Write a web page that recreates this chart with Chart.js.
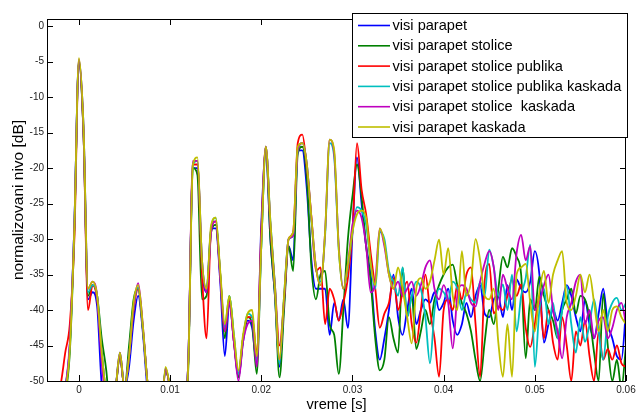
<!DOCTYPE html>
<html>
<head>
<meta charset="utf-8">
<script src="https://cdn.jsdelivr.net/npm/chart.js@4.4.1/dist/chart.umd.min.js"></script>
<style>
  html, body { margin: 0; padding: 0; background: #fff; }
  #wrap { width: 636px; height: 412px; }
</style>
</head>
<body>
<div id="wrap"><canvas id="chart" width="636" height="412"></canvas></div>
<script>
// vreme [s], korak 0.5 ms
const times = [
  -0.0035, -0.003, -0.0025, -0.002, -0.0015, -0.001, -0.0005, 0, 0.0005, 0.001,
  0.0015, 0.002, 0.0025, 0.003, 0.0035, 0.004, 0.0045, 0.005, 0.0055, 0.006,
  0.0065, 0.007, 0.0075, 0.008, 0.0085, 0.009, 0.0095, 0.01, 0.0105, 0.011,
  0.0115, 0.012, 0.0125, 0.013, 0.0135, 0.014, 0.0145, 0.015, 0.0155, 0.016,
  0.0165, 0.017, 0.0175, 0.018, 0.0185, 0.019, 0.0195, 0.02, 0.0205, 0.021,
  0.0215, 0.022, 0.0225, 0.023, 0.0235, 0.024, 0.0245, 0.025, 0.0255, 0.026,
  0.0265, 0.027, 0.0275, 0.028, 0.0285, 0.029, 0.0295, 0.03, 0.0305, 0.031,
  0.0315, 0.032, 0.0325, 0.033, 0.0335, 0.034, 0.0345, 0.035, 0.0355, 0.036,
  0.0365, 0.037, 0.0375, 0.038, 0.0385, 0.039, 0.0395, 0.04, 0.0405, 0.041,
  0.0415, 0.042, 0.0425, 0.043, 0.0435, 0.044, 0.0445, 0.045, 0.0455, 0.046,
  0.0465, 0.047, 0.0475, 0.048, 0.0485, 0.049, 0.0495, 0.05, 0.0505, 0.051,
  0.0515, 0.052, 0.0525, 0.053, 0.0535, 0.054, 0.0545, 0.055, 0.0555, 0.056,
  0.0565, 0.057, 0.0575, 0.058, 0.0585, 0.059, 0.0595, 0.06
];

const labels = [
  'visi parapet',
  'visi parapet stolice',
  'visi parapet stolice publika',
  'visi parapet stolice publika kaskada',
  'visi parapet stolice  kaskada',
  'visi parapet kaskada'
];
const colors = ['#0000ff', '#008000', '#ff0000', '#00bfbf', '#bf00bf', '#bfbf00'];

// normalizovani nivo [dB]
const visiParapet = [
  -56, -56, -55, -53, -51, -45, -28, -5, -15, -38.5,
  -37.5, -39.5, -50.5, -53, -56, -51.5, -46.5, -51, -48, -41.5,
  -38, -43, -51, -56, -58, -56, -48.5, -51, -56, -58,
  -56, -47, -20, -20, -34, -37.5, -28.5, -28.5, -36, -46.5,
  -39, -44.5, -49.5, -44.5, -41.5, -42.5, -47.5, -28, -17.5, -30,
  -38, -48, -39, -31, -33, -17.5, -17.5, -23, -33, -37,
  -37, -37, -43.5, -39, -41.5, -38.5, -42.5, -29, -18.5, -25,
  -31, -35, -43, -47, -44, -40, -35, -41, -43.5, -40,
  -37, -42, -40, -38.5, -39, -37.5, -40, -39, -37, -41.5,
  -43.5, -42, -39, -41, -38, -36.5, -40.5, -41, -38.5, -38,
  -41, -36.5, -40, -35.7, -37, -37.5, -36, -31.7, -35, -44.6,
  -42, -40, -41.5, -39, -36.5, -38, -41, -43, -38.6, -42,
  -44, -40.5, -37, -42, -44, -46.5, -47, -40
];
const visiParapetStolice = [
  -57, -57, -56, -55, -52, -46, -29, -5, -15, -38,
  -36.5, -38, -44, -48.5, -55, -51.5, -46.5, -51, -45, -38.5,
  -37, -42.5, -50, -56, -58, -56, -48.5, -51, -56, -58,
  -56, -48, -20, -21, -38.5, -38, -29, -28, -35, -44,
  -38, -44, -49.5, -44, -41, -42, -49, -31, -17.5, -30,
  -38, -49.5, -40, -31, -34.5, -18, -17, -21.5, -34, -38.5,
  -35, -34.5, -42, -43.5, -49, -40, -30, -24, -19.5, -24,
  -31, -36, -44, -48.5, -47, -41, -44, -46, -34, -41,
  -38, -45.5, -43, -40, -42, -38.5, -36.5, -35, -34, -33.6,
  -36.5, -39, -40.5, -43, -47, -50, -44.5, -40, -42, -37,
  -32.5, -34, -31.3, -32.5, -35, -46.8, -38.5, -40, -35.3, -38,
  -40, -41.5, -44, -40, -38.5, -37, -40.5, -38, -38.5, -41,
  -46, -50, -37.7, -45, -50, -47, -51, -45
];
const visiParapetStolicePublika = [
  -56, -55, -53, -50.5, -46, -42, -30, -5, -15, -40,
  -36.5, -38.5, -46, -52, -56, -51.5, -46.5, -51, -46.5, -40,
  -37, -42.5, -50, -56, -58, -56, -48.5, -51, -56, -58,
  -56, -47, -19.5, -19.5, -35, -44, -28.5, -27.5, -35, -43,
  -38.5, -44.5, -49, -44, -41, -41, -46, -29, -17, -28,
  -36.5, -45, -38.5, -30, -29, -16.5, -15.3, -20, -27, -34.5,
  -34, -42, -37, -38.5, -41.5, -39, -35.5, -29, -16.5, -23,
  -26.5, -32, -37, -42.5, -40.5, -39, -35.5, -40, -37.6, -36,
  -42, -44.6, -40, -35, -40, -44, -49.4, -40, -38.5, -40,
  -36.5, -38.5, -35, -34, -42, -49.4, -36, -33.5, -40.5, -39.5,
  -40, -38, -35.7, -38, -36.4, -42.5, -45.2, -42, -38, -44,
  -40, -44.6, -47, -41, -45, -50, -43, -45, -41.5, -46.5,
  -50, -43, -47, -45.5, -47, -45, -47.5, -48
];
const visiParapetStolicePublikaKaskada = [
  -57, -57, -56, -55, -51, -45, -28, -4.8, -14, -37.5,
  -36.5, -38, -46, -52, -56, -51.5, -46, -51, -46.5, -39.5,
  -36.8, -42.5, -50, -56, -58, -56, -48.2, -51, -56, -58,
  -56, -47, -19.5, -19, -33, -37, -28.5, -27, -35, -42.5,
  -38, -43.5, -49, -44, -40.5, -41, -47, -31, -17, -27.5,
  -36.5, -47.5, -38, -30, -29.5, -17.5, -16.5, -19.5, -27.5, -34,
  -36, -29.5, -16.5, -18.5, -31.5, -37, -34, -29, -25.5, -26,
  -28, -33.5, -37, -29, -30, -34.5, -36, -38, -34, -41,
  -38, -36, -37, -41, -47.5, -40, -37, -37.5, -38.5, -36,
  -37, -40, -37.6, -38.5, -39, -36, -38, -31.5, -34, -38,
  -36.4, -40, -35, -43, -38, -35.5, -30.8, -48, -40, -37,
  -42, -39, -44, -40, -36.6, -42, -46, -41, -44.5, -42,
  -38.5, -43, -47, -41, -39, -38.3, -40, -39
];
const visiParapetStoliceKaskada = [
  -57, -57, -56, -54, -51, -44.5, -28, -4.7, -14, -37,
  -36, -38, -47.5, -53, -56, -51.5, -46, -51, -46.5, -39.5,
  -36.2, -42, -50, -56, -58, -56, -48.3, -51, -56, -58,
  -56, -47, -19, -19, -33, -37.5, -29, -27.5, -35.5, -43,
  -39, -44.5, -50, -44.5, -42, -41.5, -48, -30, -17, -28,
  -37, -47, -38.5, -30, -29.5, -17.5, -16.5, -19.5, -27, -34,
  -36.5, -29, -16, -18, -31, -37, -33.5, -28, -26, -27,
  -31, -37.5, -36, -28.5, -31, -35, -37, -36, -38, -37,
  -36, -38, -36.5, -34, -33, -37, -38.5, -36.5, -39, -45.4,
  -38, -36.5, -37, -39, -39.5, -36, -33.4, -31.7, -34, -40,
  -35, -37, -38.5, -32, -29.4, -33, -31, -40, -39, -36.5,
  -35, -40, -43, -46.8, -41, -39, -36, -35, -42, -40,
  -44, -41.5, -41, -44, -42.5, -40, -39, -42
];
const visiParapetKaskada = [
  -57, -57, -56, -55, -51.5, -45.5, -28.5, -4.5, -14, -37,
  -36, -38, -46, -52, -56, -51.5, -46, -51, -46.5, -39,
  -36.5, -42, -50, -56, -58, -56, -48, -51, -56, -58,
  -56, -47.5, -19.5, -18.5, -33, -37, -28, -27, -34.5, -42,
  -38, -43.5, -48.5, -43.5, -40.5, -40, -46.5, -31, -17, -27.5,
  -37, -47, -38, -30, -29, -17, -16.5, -19.5, -27, -34,
  -36.5, -29, -16, -17.5, -31.5, -37, -33.5, -29, -26.5, -26,
  -27, -33.5, -36.5, -28.5, -30.5, -35, -37, -34, -37, -41,
  -44.7, -37, -35.5, -37, -36, -33, -30.1, -35, -31.3, -38,
  -40, -31.7, -38, -36, -30, -33, -38, -38.5, -37, -44.6,
  -49.4, -42, -49.4, -35, -34, -33.5, -39, -43, -37.5, -34.5,
  -39, -35, -33, -31.7, -39, -40, -38, -35, -37.5, -35,
  -39, -43, -40, -43, -40, -39.5, -41, -42
];

const series = [
  visiParapet, visiParapetStolice, visiParapetStolicePublika,
  visiParapetStolicePublikaKaskada, visiParapetStoliceKaskada, visiParapetKaskada
];

const xTicks = [0, 0.01, 0.02, 0.03, 0.04, 0.05, 0.06];
const xTickLabels = ['0', '0.01', '0.02', '0.03', '0.04', '0.05', '0.06'];
const yTicks = [-50, -45, -40, -35, -30, -25, -20, -15, -10, -5, 0];
const yTickLabels = ['-50', '-45', '-40', '-35', '-30', '-25', '-20', '-15', '-10', '-5', '0'];

series.forEach((s, k) => {
  if (s.length !== times.length) console.error('duzina niza', k, s.length);
});

const FONT = '"Liberation Sans", Arial, sans-serif';

// okvir sa unutrasnjim podeocima (MATLAB stil) + legenda
const matlabFrame = {
  id: 'matlabFrame',
  afterDatasetsDraw(chart) {
    const { ctx, chartArea: a, scales: { x, y } } = chart;
    ctx.save();
    ctx.strokeStyle = '#000';
    ctx.lineWidth = 1;
    ctx.strokeRect(a.left + 0.5, a.top + 0.5, a.right - a.left - 1, a.bottom - a.top);
    ctx.beginPath();
    xTicks.forEach(v => {
      const px = Math.round(x.getPixelForValue(v)) + 0.5;
      ctx.moveTo(px, a.bottom); ctx.lineTo(px, a.bottom - 6);
      ctx.moveTo(px, a.top); ctx.lineTo(px, a.top + 6);
    });
    yTicks.forEach(v => {
      const py = Math.round(y.getPixelForValue(v)) + 0.5;
      ctx.moveTo(a.left, py); ctx.lineTo(a.left + 6, py);
      ctx.moveTo(a.right, py); ctx.lineTo(a.right - 6, py);
    });
    ctx.stroke();

    // legenda
    const bx = 352.5, by = 13.5, bw = 275, bh = 124;
    ctx.fillStyle = '#fff';
    ctx.fillRect(bx, by, bw, bh);
    ctx.strokeRect(bx, by, bw, bh);
    ctx.font = '14.6px ' + FONT;
    ctx.textBaseline = 'middle';
    ctx.textAlign = 'left';
    chart.data.datasets.forEach((ds, i) => {
      const ry = 25.5 + i * 20.3;
      ctx.strokeStyle = ds.borderColor;
      ctx.lineWidth = 1.6;
      ctx.beginPath();
      ctx.moveTo(358, ry); ctx.lineTo(390, ry);
      ctx.stroke();
      ctx.fillStyle = '#000';
      ctx.fillText(ds.label, 392.5, ry + 0.5);
    });
    ctx.restore();
  }
};

new Chart(document.getElementById('chart'), {
  type: 'line',
  data: {
    datasets: series.map((s, i) => ({
      label: labels[i],
      data: times.map((t, j) => ({ x: t, y: s[j] })),
      borderColor: colors[i],
      backgroundColor: colors[i],
      borderWidth: 1.8,
      pointRadius: 0,
      cubicInterpolationMode: 'monotone',
      fill: false,
      order: 5 - i
    }))
  },
  options: {
    responsive: false,
    animation: false,
    devicePixelRatio: 1,
    layout: { padding: { top: 19, right: 10, bottom: 0, left: 0 } },
    plugins: { legend: { display: false }, tooltip: { enabled: false } },
    scales: {
      x: {
        type: 'linear',
        min: -0.0035,
        max: 0.06,
        afterBuildTicks: s => { s.ticks = xTicks.map(v => ({ value: v })); },
        afterFit: s => { s.height = 31; s.paddingLeft = 0; s.paddingRight = 0; },
        grid: { display: false, drawTicks: false },
        border: { display: false },
        ticks: {
          autoSkip: false, maxRotation: 0, padding: 3,
          color: '#222', font: { family: FONT, size: 10 },
          callback: (v, i) => xTickLabels[i]
        },
        title: {
          display: true, text: 'vreme [s]', color: '#000',
          font: { family: FONT, size: 14.6 }, padding: { top: 0, bottom: -2 }
        }
      },
      y: {
        type: 'linear',
        min: -50,
        max: 1,
        afterBuildTicks: s => { s.ticks = yTicks.map(v => ({ value: v })); },
        afterFit: s => { s.width = 47; },
        grid: { display: false, drawTicks: false },
        border: { display: false },
        ticks: {
          autoSkip: false, padding: 3,
          color: '#222', font: { family: FONT, size: 10 },
          callback: (v, i) => yTickLabels[i]
        },
        title: {
          display: true, text: 'normalizovani nivo [dB]', color: '#000',
          font: { family: FONT, size: 15.5 }, padding: { top: 9, bottom: 0 }
        }
      }
    }
  },
  plugins: [matlabFrame]
});
</script>
</body>
</html>
